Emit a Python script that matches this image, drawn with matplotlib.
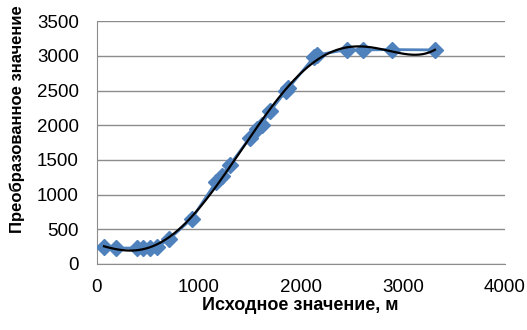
import numpy as np
import matplotlib
matplotlib.use("Agg")
import matplotlib.pyplot as plt
from matplotlib import font_manager

x_vals = [69, 186, 389, 454, 520, 585, 706, 928, 1167, 1222, 1304, 1500, 1565, 1614, 1696, 1853, 1875, 2127, 2154, 2448, 2605, 2889, 3314]
y_vals = [240, 230, 230, 230, 230, 245, 355, 650, 1180, 1275, 1430, 1820, 1940, 2010, 2200, 2490, 2530, 2980, 3010, 3090, 3085, 3090, 3085]
x_ticks = [0, 1000, 2000, 3000, 4000]
y_ticks = [0, 500, 1000, 1500, 2000, 2500, 3000, 3500]
x_label = "Исходное значение, м"
y_label = "Преобразованное значение"

names = {f.name for f in font_manager.fontManager.ttflist}
fam = "Liberation Sans Narrow" if "Liberation Sans Narrow" in names else "Liberation Sans"
plt.rcParams['font.family'] = [fam, 'DejaVu Sans']

fig = plt.figure(figsize=(5.27, 3.30), dpi=100)
ax = fig.add_axes([0.184, 0.2, 0.774, 0.736])

blue = "#4F81BD"
ax.plot(x_vals, y_vals, color=blue, lw=2, marker="D", ms=8, zorder=3)
coef = np.polyfit(x_vals, y_vals, 6)
xs = np.linspace(min(x_vals), max(x_vals), 400)
ax.plot(xs, np.polyval(coef, xs), color="black", lw=1.6, zorder=4)

ax.set_xlim(0, 4000)
ax.set_ylim(0, 3500)
ax.set_xticks(x_ticks)
ax.set_yticks(y_ticks)
ax.tick_params(length=0, labelsize=13.5)
ax.tick_params(axis="y", pad=13)
ax.tick_params(axis="x", pad=11)
ax.yaxis.grid(True, color="#8c8c8c", lw=1)
ax.set_axisbelow(True)
for s in ["top", "right"]:
    ax.spines[s].set_visible(False)
for s in ["left", "bottom"]:
    ax.spines[s].set_color("#8c8c8c")
ax.set_xlabel(x_label, fontsize=13, fontweight="bold")
ax.set_ylabel(y_label, fontsize=12, fontweight="bold")
ax.xaxis.set_label_coords(0.4975, -0.135)
ax.yaxis.set_label_coords(-0.176, 0.597)

fig.savefig("out.png", dpi=100)
